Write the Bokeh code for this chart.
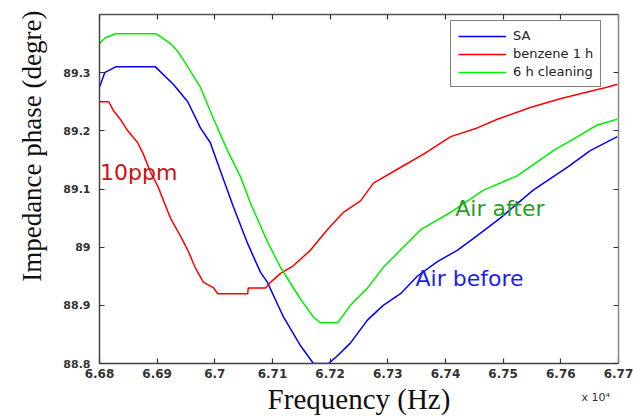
from bokeh.plotting import figure
from bokeh.models import Range1d, LinearAxis, FixedTicker, Label, Legend, LegendItem, Title
from bokeh.embed import file_html
from bokeh.resources import INLINE

# ---- data (frequency in units of 1e4 Hz, phase in degrees) ----
freq_sa = [6.6800, 6.6809, 6.6828, 6.6897, 6.6928, 6.6953, 6.6975, 6.6992, 6.7010,
           6.7032, 6.7057, 6.7079, 6.7091, 6.7119, 6.7149, 6.7171, 6.7197, 6.7209,
           6.7235, 6.7265, 6.7292, 6.7322, 6.7351, 6.7386, 6.7421, 6.7455, 6.7495,
           6.7552, 6.7611, 6.7651, 6.7698]
phase_sa = [89.275, 89.30, 89.31, 89.31, 89.28, 89.25, 89.205, 89.18, 89.13,
            89.07, 89.006, 88.957, 88.94, 88.88, 88.83, 88.80, 88.80, 88.81,
            88.835, 88.875, 88.90, 88.92, 88.95, 88.975, 88.995, 89.02, 89.05,
            89.098, 89.137, 89.166, 89.19]

freq_benzene = [6.6800, 6.6816, 6.6824, 6.6836, 6.6849, 6.6866, 6.6876, 6.6888, 6.6901,
                6.6911, 6.6923, 6.6940, 6.6953, 6.6966, 6.6980, 6.6998, 6.7005, 6.7057,
                6.7058, 6.7088, 6.7097, 6.7114, 6.7136, 6.7166, 6.7195, 6.7223, 6.7253,
                6.7275, 6.7327, 6.7362, 6.7409, 6.7455, 6.7490, 6.7547, 6.7599, 6.7639,
                6.7680, 6.7698]
phase_benzene = [89.25, 89.25, 89.235, 89.22, 89.20, 89.18, 89.16, 89.13, 89.105,
                 89.08, 89.05, 89.02, 88.995, 88.965, 88.94, 88.93, 88.92, 88.92,
                 88.93, 88.93, 88.94, 88.955, 88.968, 88.995, 89.03, 89.06, 89.08,
                 89.11, 89.14, 89.16, 89.19, 89.205, 89.22, 89.24, 89.255, 89.265,
                 89.275, 89.28]

freq_clean = [6.6800, 6.6810, 6.6828, 6.6897, 6.6909, 6.6923, 6.6937, 6.6953, 6.6975,
              6.6998, 6.7022, 6.7045, 6.7062, 6.7091, 6.7114, 6.7149, 6.7171, 6.7183,
              6.7213, 6.7235, 6.7265, 6.7292, 6.7322, 6.7357, 6.7409, 6.7466, 6.7525,
              6.7587, 6.7629, 6.7663, 6.7698]
phase_clean = [89.35, 89.36, 89.367, 89.367, 89.36, 89.35, 89.335, 89.31, 89.275,
               89.22, 89.166, 89.12, 89.075, 89.01, 88.965, 88.91, 88.88, 88.87,
               88.87, 88.90, 88.93, 88.965, 88.995, 89.03, 89.06, 89.098, 89.123,
               89.166, 89.19, 89.21, 89.22]

series_names = ["SA", "benzene 1 h", "6 h cleaning"]
series_colors = ["#0000ff", "#ff0000", "#00ee00"]

x_ticks = [6.68, 6.69, 6.70, 6.71, 6.72, 6.73, 6.74, 6.75, 6.76, 6.77]
x_tick_labels = ["6.68", "6.69", "6.7", "6.71", "6.72", "6.73", "6.74", "6.75", "6.76", "6.77"]
y_ticks = [88.8, 88.9, 89.0, 89.1, 89.2, 89.3]
y_tick_labels = ["88.8", "88.9", "89", "89.1", "89.2", "89.3"]

p = figure(width=633, height=419, output_backend="svg", toolbar_location=None,
           x_range=Range1d(6.68, 6.77), y_range=Range1d(88.8, 89.4),
           min_border_left=99, min_border_right=15, min_border_top=14, min_border_bottom=56)
p.xgrid.visible = False
p.ygrid.visible = False
p.outline_line_color = None
p.background_fill_color = "white"
p.border_fill_color = "white"

def style_axis(ax, ticks, labels, show_labels=True, line_color="#444444"):
    ax.ticker = FixedTicker(ticks=ticks)
    ax.axis_line_color = line_color
    ax.axis_line_width = 1.5
    ax.major_tick_in = 5
    ax.major_tick_out = 0
    ax.major_tick_line_color = "#333333"
    ax.major_tick_line_width = 1.2
    ax.minor_tick_line_color = None
    if show_labels:
        ax.major_label_overrides = dict(zip(ticks, labels))
        ax.major_label_text_font = "DejaVu Sans"
        ax.major_label_text_font_style = "bold"
        ax.major_label_text_color = "#333333"
    else:
        ax.major_label_overrides = {t: "" for t in ticks}
        ax.major_label_text_font_size = "1px"
        ax.major_label_standoff = 0

xa = p.xaxis[0]
ya = p.yaxis[0]
style_axis(xa, x_ticks, x_tick_labels)
style_axis(ya, y_ticks, y_tick_labels)
xa.major_label_text_font_size = "12px"
xa.major_label_standoff = 5
ya.major_label_text_font_size = "11px"
ya.major_label_standoff = 9

xa.axis_label = "Frequency (Hz)"
xa.axis_label_text_font = "Liberation Serif"
xa.axis_label_text_font_size = "29px"
xa.axis_label_text_font_style = "normal"
xa.axis_label_text_color = "#111111"
xa.axis_label_standoff = 2

top = LinearAxis()
style_axis(top, x_ticks, x_tick_labels, show_labels=False, line_color="#555555")
p.add_layout(top, "above")
right = LinearAxis()
style_axis(right, y_ticks, y_tick_labels, show_labels=False, line_color="#888888")
p.add_layout(right, "right")

ytitle = Title(text="Impedance phase (degre)", align="right", offset=-4, standoff=27,
               text_font="Liberation Serif", text_font_size="27px",
               text_font_style="normal", text_color="#111111")
p.add_layout(ytitle, "left")

# exponent note: kept in the (thin) top side panel so it is not clipped by the frame,
# and drawn down by the lower right corner of the frame
p.add_layout(Label(x=482, y=-383, x_units="screen", y_units="screen", text="x 10\u2074",
                   text_align="left", text_baseline="alphabetic", text_font="DejaVu Sans",
                   text_font_size="11px", text_color="#333333"), "above")

r_sa = p.line(freq_sa, phase_sa, line_color=series_colors[0], line_width=1.5)
r_bz = p.line(freq_benzene, phase_benzene, line_color=series_colors[1], line_width=1.5)
r_cl = p.line(freq_clean, phase_clean, line_color=series_colors[2], line_width=1.5)

legend = Legend(items=[LegendItem(label=series_names[0], renderers=[r_sa]),
                       LegendItem(label=series_names[1], renderers=[r_bz]),
                       LegendItem(label=series_names[2], renderers=[r_cl])],
                location=(351, 276))
legend.border_line_color = "black"
legend.border_line_width = 1
legend.background_fill_color = "white"
legend.background_fill_alpha = 1
legend.label_text_font = "DejaVu Sans"
legend.label_text_font_size = "13px"
legend.label_text_color = "#222222"
legend.glyph_width = 48
legend.glyph_height = 14
legend.label_height = 14
legend.spacing = 3
legend.padding = 7
legend.margin = 0
legend.label_standoff = 7
p.add_layout(legend)

p.add_layout(Label(x=6.6801, y=89.128, text="10ppm", text_align="left",
                   text_baseline="alphabetic", text_font="DejaVu Sans",
                   text_font_size="22px", text_color="#cc1111"))
p.add_layout(Label(x=6.7417, y=89.067, text="Air after", text_align="left",
                   text_baseline="alphabetic", text_font="DejaVu Sans",
                   text_font_size="22px", text_color="#1f9f1f"))
p.add_layout(Label(x=6.7348, y=88.946, text="Air before", text_align="left",
                   text_baseline="alphabetic", text_font="DejaVu Sans",
                   text_font_size="22px", text_color="#1a1aff"))

open("out.html", "w").write(file_html(p, INLINE))
